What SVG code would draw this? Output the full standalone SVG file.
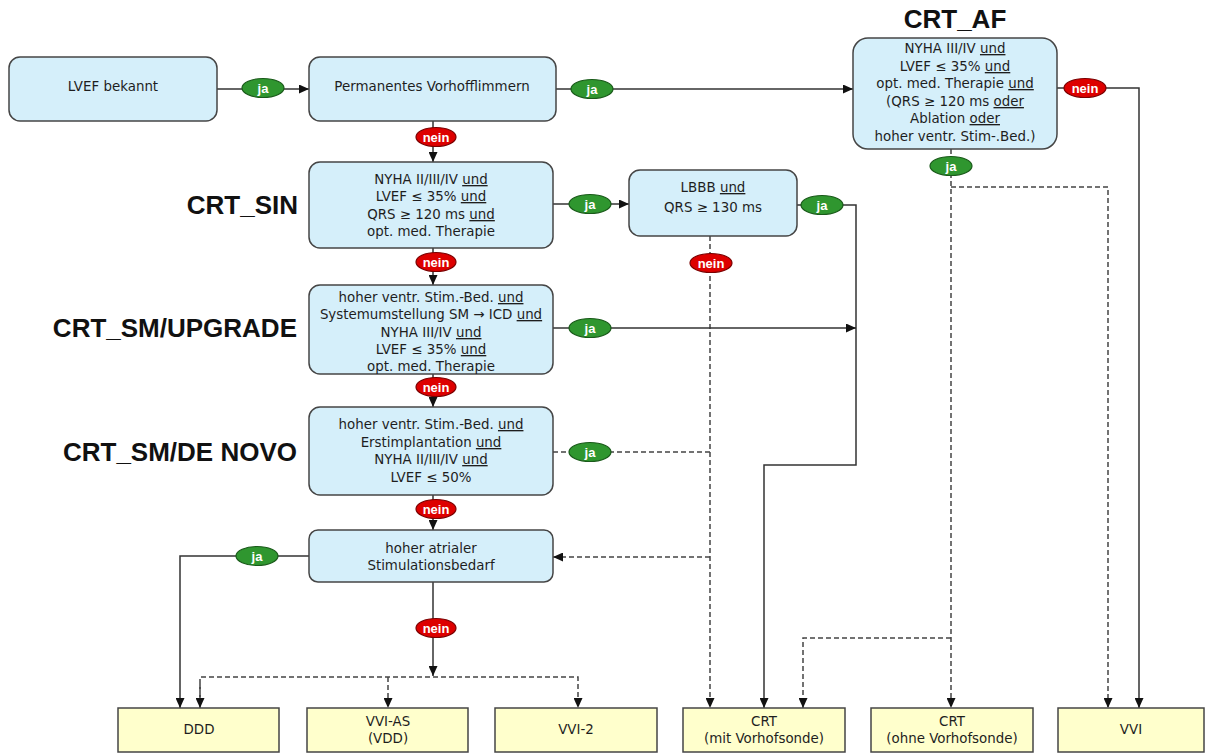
<svg xmlns="http://www.w3.org/2000/svg" width="1218" height="754" viewBox="0 0 1218 754">
<style>
.box{fill:#d5effa;stroke:#454545;stroke-width:1.5}
.out{fill:#ffffcc;stroke:#454545;stroke-width:1.5}
.t{font-family:"DejaVu Sans","Liberation Sans",sans-serif;font-size:13.4px;fill:#1e1e1e;text-anchor:middle}
.u{text-decoration:underline}
.title{font-family:"Liberation Sans",Arial,sans-serif;font-size:26px;font-weight:bold;fill:#111}
.ln{fill:none;stroke:#333;stroke-width:1.5}
.dl{fill:none;stroke:#444;stroke-width:1.5;stroke-dasharray:5 3}
.ja{fill:#2f962f;stroke:#1a5a1a;stroke-width:1.2}
.nein{fill:#dd0000;stroke:#7a0000;stroke-width:1.2}
.lt{font-family:"Liberation Sans",Arial,sans-serif;font-size:13px;font-weight:bold;fill:#fff;text-anchor:middle}
</style>
<defs>
<marker id="ah" markerUnits="userSpaceOnUse" markerWidth="11" markerHeight="9" refX="10" refY="4.5" orient="auto">
<path d="M0,0 L10,4.5 L0,9 z" fill="#111"/>
</marker>
</defs>

<g id="titles">
<text class="title" x="955" y="28" text-anchor="middle">CRT_AF</text>
<text class="title" x="298" y="214" text-anchor="end">CRT_SIN</text>
<text class="title" x="297" y="337" text-anchor="end">CRT_SM/UPGRADE</text>
<text class="title" x="297" y="461" text-anchor="end">CRT_SM/DE NOVO</text>
</g>

<g id="connectors">
<path class="ln" d="M217,89 L309,89" marker-end="url(#ah)"/>
<path class="ln" d="M556,89 L853,89" marker-end="url(#ah)"/>
<path class="ln" d="M1057,88 L1139,88 L1139,708" marker-end="url(#ah)"/>
<path class="dl" d="M951,149 L951,708" marker-end="url(#ah)"/>
<path class="dl" d="M951,187 L1108,187 L1108,708" marker-end="url(#ah)"/>
<path class="ln" d="M433,121 L433,162" marker-end="url(#ah)"/>
<path class="ln" d="M553,204 L629,204" marker-end="url(#ah)"/>
<path class="ln" d="M797,205 L856,205 L856,465 L764,465 L764,708" marker-end="url(#ah)"/>
<path class="dl" d="M710,236 L710,708" marker-end="url(#ah)"/>
<path class="ln" d="M433,248 L433,285" marker-end="url(#ah)"/>
<path class="ln" d="M553,328 L856,328" marker-end="url(#ah)"/>
<path class="ln" d="M433,374 L433,407" marker-end="url(#ah)"/>
<path class="dl" d="M553,452 L710,452"/>
<path class="ln" d="M433,495 L433,530" marker-end="url(#ah)"/>
<path class="dl" d="M710,557 L553,557" marker-end="url(#ah)"/>
<path class="ln" d="M309,556 L180,556 L180,708" marker-end="url(#ah)"/>
<path class="ln" d="M433,582 L433,676" marker-end="url(#ah)"/>
<path class="dl" d="M200,708 L200,677 L578,677 L578,708" marker-end="url(#ah)"/>
<path class="dl" d="M200,684 L200,708" marker-end="url(#ah)"/>
<path class="dl" d="M388,677 L388,708" marker-end="url(#ah)"/>
<path class="dl" d="M951,638 L803,638 L803,708" marker-end="url(#ah)"/>

<ellipse class="ja" cx="263" cy="88" rx="21" ry="9.5"/><text class="lt" x="263" y="92.5">ja</text>
<ellipse class="ja" cx="592" cy="89" rx="21" ry="9.5"/><text class="lt" x="592" y="93.5">ja</text>
<ellipse class="nein" cx="1085" cy="88" rx="21" ry="9.5"/><text class="lt" x="1085" y="92.5">nein</text>
<ellipse class="ja" cx="951" cy="166" rx="21" ry="9.5"/><text class="lt" x="951" y="170.5">ja</text>
<ellipse class="nein" cx="436" cy="137" rx="20" ry="9.5"/><text class="lt" x="436" y="141.5">nein</text>
<ellipse class="ja" cx="590" cy="204" rx="21" ry="9.5"/><text class="lt" x="590" y="208.5">ja</text>
<ellipse class="ja" cx="822" cy="205" rx="21" ry="9.5"/><text class="lt" x="822" y="209.5">ja</text>
<ellipse class="nein" cx="711" cy="263" rx="21" ry="9.5"/><text class="lt" x="711" y="267.5">nein</text>
<ellipse class="nein" cx="436" cy="262" rx="20" ry="9.5"/><text class="lt" x="436" y="266.5">nein</text>
<ellipse class="ja" cx="590" cy="328" rx="21" ry="9.5"/><text class="lt" x="590" y="332.5">ja</text>
<ellipse class="nein" cx="436" cy="387" rx="20" ry="9.5"/><text class="lt" x="436" y="391.5">nein</text>
<ellipse class="ja" cx="590" cy="452" rx="21" ry="9.5"/><text class="lt" x="590" y="456.5">ja</text>
<ellipse class="nein" cx="436" cy="509" rx="20" ry="9.5"/><text class="lt" x="436" y="513.5">nein</text>
<ellipse class="ja" cx="257" cy="556" rx="21" ry="9.5"/><text class="lt" x="257" y="560.5">ja</text>
<ellipse class="nein" cx="436" cy="628" rx="20" ry="9.5"/><text class="lt" x="436" y="632.5">nein</text>
</g>

<g id="lvef">
<rect class="box" x="9" y="57" width="208" height="64" rx="11"/>
<text class="t" x="113" y="91">LVEF bekannt</text>
</g>
<g id="vhf">
<rect class="box" x="309" y="57" width="247" height="64" rx="11"/>
<text class="t" x="432" y="91">Permanentes Vorhofflimmern</text>
</g>
<g id="crt_af">
<rect class="box" x="853" y="38" width="204" height="111" rx="15"/>
<text class="t" x="955" y="53">NYHA III/IV  <tspan class="u">und</tspan></text>
<text class="t" x="955" y="71">LVEF ≤ 35% <tspan class="u">und</tspan></text>
<text class="t" x="955" y="88">opt. med. Therapie <tspan class="u">und</tspan></text>
<text class="t" x="955" y="106">(QRS ≥ 120 ms <tspan class="u">oder</tspan></text>
<text class="t" x="955" y="123">Ablation <tspan class="u">oder</tspan></text>
<text class="t" x="955" y="141">hoher ventr. Stim-.Bed.)</text>
</g>
<g id="crt_sin">
<rect class="box" x="309" y="162" width="244" height="86" rx="11"/>
<text class="t" x="431" y="184">NYHA II/III/IV  <tspan class="u">und</tspan></text>
<text class="t" x="431" y="201">LVEF ≤ 35% <tspan class="u">und</tspan></text>
<text class="t" x="431" y="219">QRS ≥ 120 ms <tspan class="u">und</tspan></text>
<text class="t" x="431" y="236">opt. med. Therapie</text>
</g>
<g id="lbbb">
<rect class="box" x="629" y="170" width="168" height="66" rx="11"/>
<text class="t" x="713" y="192">LBBB <tspan class="u">und</tspan></text>
<text class="t" x="713" y="212">QRS ≥ 130 ms</text>
</g>
<g id="crt_sm_upgrade">
<rect class="box" x="309" y="285" width="244" height="89" rx="11"/>
<text class="t" x="431" y="302">hoher ventr. Stim.-Bed. <tspan class="u">und</tspan></text>
<text class="t" x="431" y="319">Systemumstellung SM → ICD <tspan class="u">und</tspan></text>
<text class="t" x="431" y="337">NYHA III/IV  <tspan class="u">und</tspan></text>
<text class="t" x="431" y="354">LVEF ≤ 35% <tspan class="u">und</tspan></text>
<text class="t" x="431" y="371">opt. med. Therapie</text>
</g>
<g id="crt_sm_denovo">
<rect class="box" x="309" y="407" width="244" height="88" rx="11"/>
<text class="t" x="431" y="429">hoher ventr. Stim.-Bed. <tspan class="u">und</tspan></text>
<text class="t" x="431" y="447">Erstimplantation <tspan class="u">und</tspan></text>
<text class="t" x="431" y="464">NYHA II/III/IV  <tspan class="u">und</tspan></text>
<text class="t" x="431" y="482">LVEF ≤ 50%</text>
</g>
<g id="atrial">
<rect class="box" x="309" y="530" width="244" height="52" rx="9"/>
<text class="t" x="431" y="553">hoher atrialer</text>
<text class="t" x="431" y="570">Stimulationsbedarf</text>
</g>

<g id="ddd">
<rect class="out" x="118" y="708" width="161" height="44"/>
<text class="t" x="199" y="734">DDD</text>
</g>
<g id="vvi_as">
<rect class="out" x="307" y="708" width="161" height="44"/>
<text class="t" x="388" y="726">VVI-AS</text>
<text class="t" x="388" y="743">(VDD)</text>
</g>
<g id="vvi2">
<rect class="out" x="495" y="708" width="162" height="44"/>
<text class="t" x="576" y="734">VVI-2</text>
</g>
<g id="crt_mit">
<rect class="out" x="683" y="708" width="162" height="44"/>
<text class="t" x="764" y="726">CRT</text>
<text class="t" x="764" y="743">(mit Vorhofsonde)</text>
</g>
<g id="crt_ohne">
<rect class="out" x="871" y="708" width="162" height="44"/>
<text class="t" x="952" y="726">CRT</text>
<text class="t" x="952" y="743">(ohne Vorhofsonde)</text>
</g>
<g id="vvi">
<rect class="out" x="1058" y="708" width="146" height="44"/>
<text class="t" x="1131" y="734">VVI</text>
</g>
</svg>
